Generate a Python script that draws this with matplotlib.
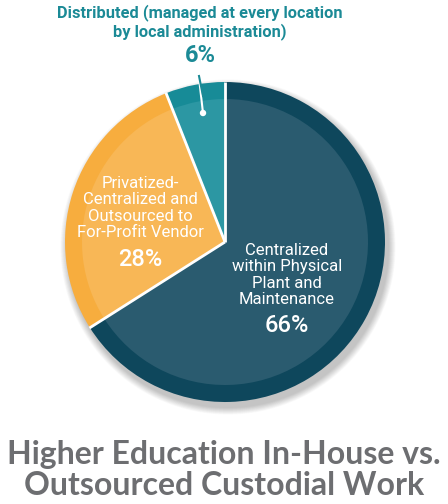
import matplotlib
matplotlib.use("Agg")
import matplotlib.pyplot as plt
import numpy as np
from matplotlib.patches import Circle

categories = ["Centralized\nwithin Physical\nPlant and\nMaintenance",
              "Privatized-\nCentralized and\nOutsourced to\nFor-Profit Vendor",
              "Distributed (managed at every location\nby local administration)"]
values = [66, 28, 6]
pct_labels = ["66%", "28%", "6%"]
title = "Higher Education In-House vs.\nOutsourced Custodial Work"

inner_colors = ["#2a5b6f", "#f8b756", "#2c97a3"]
outer_colors = ["#0e475c", "#f7ad3e", "#178b97"]

W, H = 448, 504
fig = plt.figure(figsize=(W / 100, H / 100), dpi=100)
ax = fig.add_axes([0, 0, 1, 1])
ax.set_xlim(0, W)
ax.set_ylim(0, H)
ax.set_aspect("equal")
ax.axis("off")

cx, cy = 225, H - 242
R, r_in = 160, 143

# soft shadow
for i in range(12):
    ax.add_patch(Circle((cx + 3, cy - 5), R + 1 + i * 0.6, facecolor="#000000",
                        alpha=0.018, edgecolor="none", zorder=0))

ax.pie(values, colors=outer_colors, startangle=90, counterclock=False,
       center=(cx, cy), radius=R, frame=True,
       wedgeprops=dict(edgecolor="none", linewidth=0, zorder=1))
ax.pie(values, colors=inner_colors, startangle=90, counterclock=False,
       center=(cx, cy), radius=r_in, frame=True,
       wedgeprops=dict(edgecolor="none", linewidth=0, zorder=2))
# white separators between slices
cum = np.cumsum([0] + values)
for c in cum[:-1]:
    ang = np.deg2rad(90 - 360 * c / sum(values))
    ax.plot([cx, cx + (R + 0.5) * np.cos(ang)], [cy, cy + (R + 0.5) * np.sin(ang)],
            color="white", lw=2, zorder=3, solid_capstyle="butt")
ax.set_xlim(0, W)
ax.set_ylim(0, H)
ax.axis("off")

font = "Roboto"
# 66% label
ax.text(287, H - 275, categories[0], ha="center", va="center", color="white",
        fontsize=12, family=font, linespacing=1.12, zorder=5)
ax.text(287, H - 326, pct_labels[0], ha="center", va="center", color="white",
        fontsize=17, family=font, fontweight="medium", zorder=5)
# 28% label
ax.text(140, H - 208, categories[1], ha="center", va="center", color="white",
        fontsize=12, family=font, linespacing=1.12, zorder=5)
ax.text(140, H - 259, pct_labels[1], ha="center", va="center", color="white",
        fontsize=17, family=font, fontweight="medium", zorder=5)
# 6% label outside
teal = "#1b8a96"
ax.text(200, H - 22, categories[2], ha="center", va="center", color=teal,
        fontsize=11.8, family=font, fontweight="bold", linespacing=1.1, zorder=5)
ax.text(200, H - 56, pct_labels[2], ha="center", va="center", color=teal,
        fontsize=17, family=font, fontweight="bold", zorder=5)
ax.plot([199, 203], [H - 78, H - 113], color="white", lw=1.5, zorder=6,
        solid_capstyle="butt")
ax.plot([199, 203], [H - 76, H - 96], color=teal, lw=1.5, zorder=6)
ax.add_patch(Circle((203, H - 113), 3.2, facecolor="white", edgecolor="none", zorder=7))

ax.text(W / 2, H - 470, title, ha="center", va="center", color="#6d6e71",
        fontsize=23, family="Lato", fontweight="bold", linespacing=1.08)

fig.savefig("out.png", dpi=100)
